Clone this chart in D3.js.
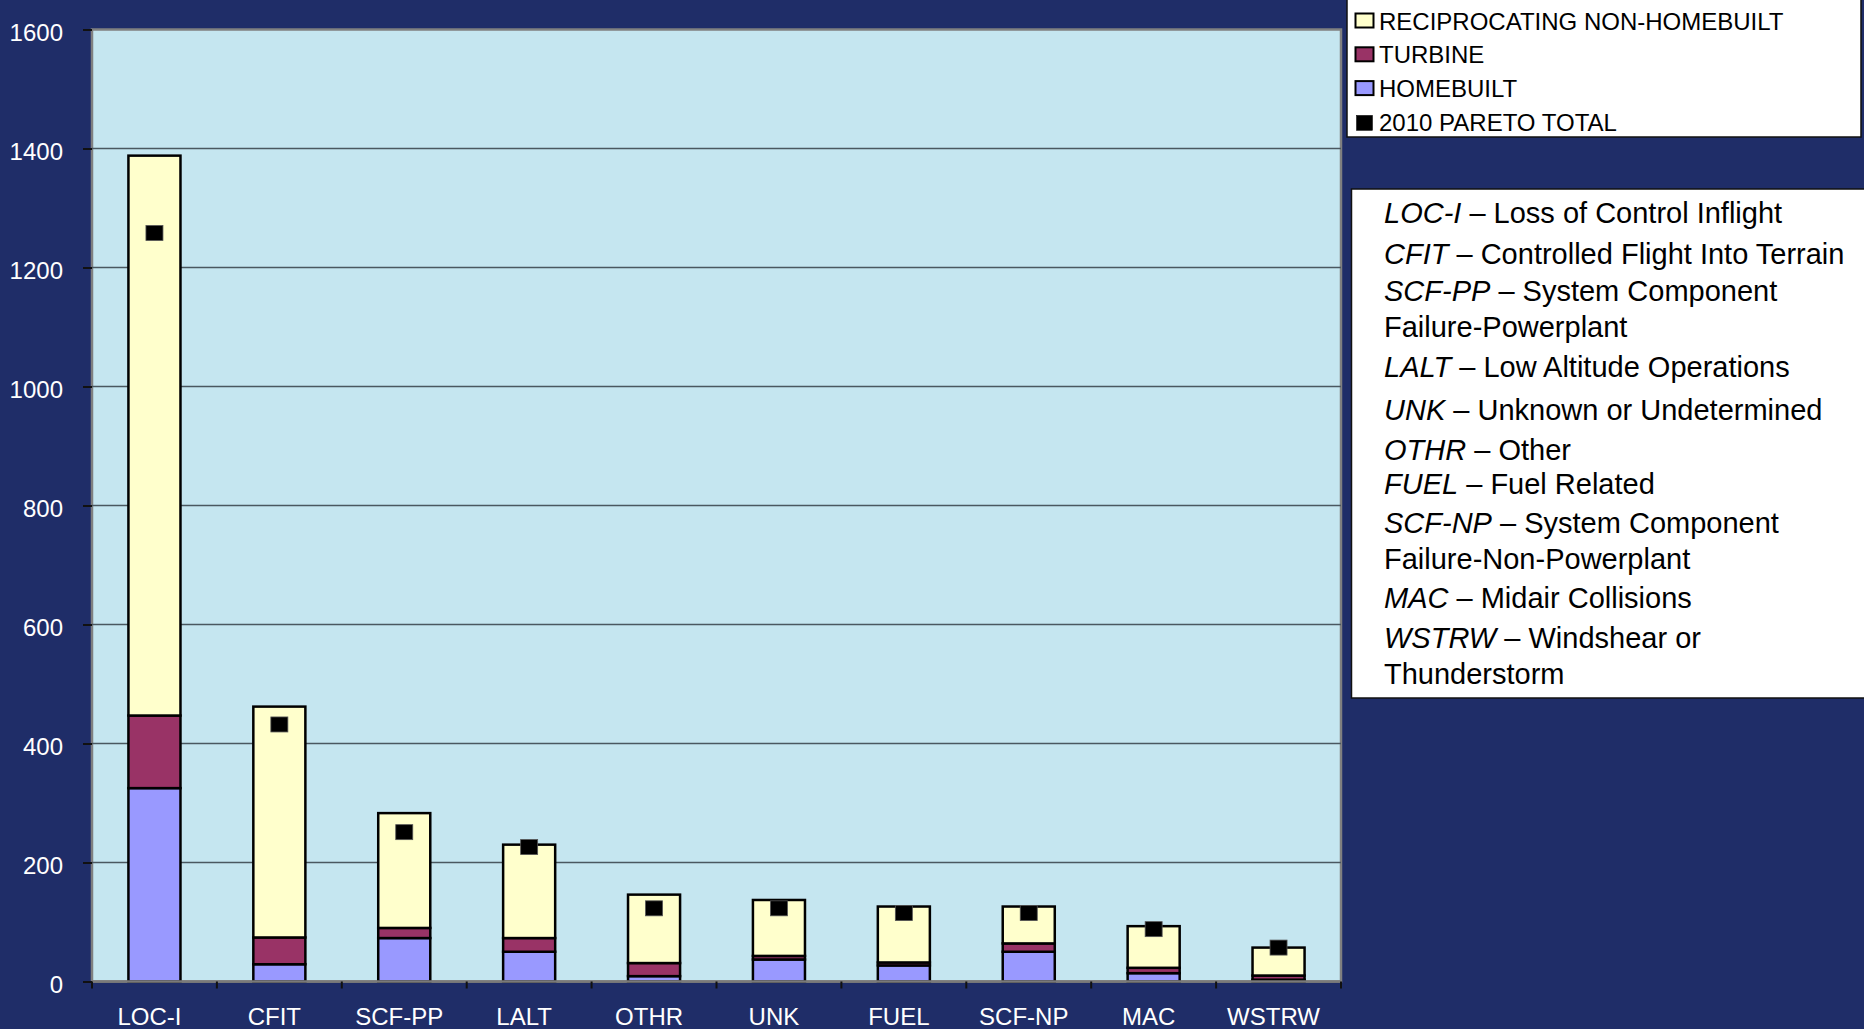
<!DOCTYPE html>
<html>
<head>
<meta charset="utf-8">
<script src="https://cdn.jsdelivr.net/npm/d3@7"></script>
<style>
  body { margin: 0; background: #1f2d68; overflow: hidden; }
  svg { display: block; font-family: "Liberation Sans", Arial, sans-serif; }
</style>
</head>
<body>
<div class="chart"></div>
<script>
const categories = ["LOC-I", "CFIT", "SCF-PP", "LALT", "OTHR", "UNK", "FUEL", "SCF-NP", "MAC", "WSTRW"];
const homebuilt = [325, 29, 73, 50, 9, 37, 27, 50, 14, 3];
const turbine = [122, 45, 17, 23, 22, 6, 5, 14, 9, 7];
const reciprocating = [941, 388, 193, 157, 115, 94, 94, 62, 70, 47];
const pareto2010 = [1258, 432, 251, 226, 123, 123, 115, 115, 88, 57];
const yTicks = [0, 200, 400, 600, 800, 1000, 1200, 1400, 1600];

const seriesNames = ["HOMEBUILT", "TURBINE", "RECIPROCATING NON-HOMEBUILT"];
const seriesColors = ["#9999ff", "#993366", "#ffffcc"];
const legendOrder = ["RECIPROCATING NON-HOMEBUILT", "TURBINE", "HOMEBUILT", "2010 PARETO TOTAL"];

const glossary = [
  ["LOC-I", ["Loss of Control Inflight"]],
  ["CFIT", ["Controlled Flight Into Terrain"]],
  ["SCF-PP", ["System Component", "Failure-Powerplant"]],
  ["LALT", ["Low Altitude Operations"]],
  ["UNK", ["Unknown or Undetermined"]],
  ["OTHR", ["Other"]],
  ["FUEL", ["Fuel Related"]],
  ["SCF-NP", ["System Component", "Failure-Non-Powerplant"]],
  ["MAC", ["Midair Collisions"]],
  ["WSTRW", ["Windshear or", "Thunderstorm"]]
];

const W = 1864, H = 1029;
const plot = { left: 92, right: 1341, top: 29.5, bottom: 981.5 };

const svg = d3.select(".chart").append("svg")
  .attr("width", W)
  .attr("height", H);

svg.append("rect").attr("width", W).attr("height", H).attr("fill", "#1f2d68");

const x = d3.scaleBand().domain(categories).range([plot.left, plot.right]);
const y = d3.scaleLinear().domain([0, 1600]).range([plot.bottom, plot.top]);
const barW = x.bandwidth() / 2.4;

// plot area
svg.append("rect")
  .attr("x", plot.left).attr("y", plot.top)
  .attr("width", plot.right - plot.left).attr("height", plot.bottom - plot.top)
  .attr("fill", "#c5e6f0")
  .attr("stroke", "#808080")
  .attr("stroke-width", 2.5);

// gridlines
svg.append("g")
  .selectAll("line")
  .data(yTicks.filter(d => d > 0 && d < 1600))
  .join("line")
    .attr("x1", plot.left).attr("x2", plot.right)
    .attr("y1", d => y(d)).attr("y2", d => y(d))
    .attr("stroke", "#4a5860")
    .attr("stroke-width", 1.6);

// y axis
const yAxis = svg.append("g")
  .attr("transform", `translate(${plot.left},0)`)
  .call(d3.axisLeft(y).tickValues(yTicks).tickSize(9).tickPadding(0).tickFormat(d3.format("d")));
yAxis.select(".domain").remove();
yAxis.selectAll(".tick line").attr("stroke", "#111").attr("stroke-width", 2);
yAxis.selectAll(".tick text")
  .attr("x", -29)
  .attr("dy", null)
  .attr("y", 11)
  .attr("fill", "#fff")
  .attr("font-size", 24)
  .attr("font-family", "\"Liberation Sans\", Arial, sans-serif");

// stacked bars
const rows = categories.map((c, i) => ({
  cat: c, HOMEBUILT: homebuilt[i], TURBINE: turbine[i], "RECIPROCATING NON-HOMEBUILT": reciprocating[i]
}));
const stacked = d3.stack().keys(seriesNames)(rows);

svg.append("g")
  .selectAll("g")
  .data(stacked)
  .join("g")
    .attr("fill", (d, i) => seriesColors[i])
  .selectAll("rect")
  .data(d => d)
  .join("rect")
    .attr("x", d => x(d.data.cat) + (x.bandwidth() - barW) / 2)
    .attr("width", barW)
    .attr("y", d => y(d[1]))
    .attr("height", d => y(d[0]) - y(d[1]))
    .attr("stroke", "#000")
    .attr("stroke-width", 2.5);

// x axis
svg.append("line")
  .attr("x1", plot.left).attr("x2", plot.right)
  .attr("y1", plot.bottom).attr("y2", plot.bottom)
  .attr("stroke", "#7a7a7a").attr("stroke-width", 2.5);

const bounds = categories.map(c => x(c)).concat([plot.right]);
svg.append("g")
  .selectAll("line")
  .data(bounds)
  .join("line")
    .attr("x1", d => d).attr("x2", d => d)
    .attr("y1", plot.bottom).attr("y2", plot.bottom + 7)
    .attr("stroke", "#111").attr("stroke-width", 2);

svg.append("g")
  .selectAll("text")
  .data(categories)
  .join("text")
    .attr("x", d => x(d) + x.bandwidth() / 2 - 5)
    .attr("y", 1025)
    .attr("text-anchor", "middle")
    .attr("fill", "#fff")
    .attr("font-size", 24)
    .text(d => d);

// 2010 pareto markers
svg.append("g")
  .selectAll("rect")
  .data(pareto2010)
  .join("rect")
    .attr("x", (d, i) => x(categories[i]) + x.bandwidth() / 2 - 8.5)
    .attr("y", d => y(d) - 7.5)
    .attr("width", 17)
    .attr("height", 15)
    .attr("fill", "#000")
    .attr("stroke", "#555")
    .attr("stroke-width", 0.8);

// series legend
const lg = svg.append("g");
lg.append("rect")
  .attr("x", 1347).attr("y", -2)
  .attr("width", 514).attr("height", 139)
  .attr("fill", "#fff").attr("stroke", "#111").attr("stroke-width", 1.5);

const colorOf = n => n === "2010 PARETO TOTAL" ? "#000" : seriesColors[seriesNames.indexOf(n)];
const item = lg.selectAll("g")
  .data(legendOrder)
  .join("g")
    .attr("transform", (d, i) => `translate(1355,${29.5 + i * 33.8})`);
item.append("rect")
  .attr("x", d => d === "2010 PARETO TOTAL" ? 1.5 : 0.5)
  .attr("y", d => d === "2010 PARETO TOTAL" ? -15.5 : -16)
  .attr("width", d => d === "2010 PARETO TOTAL" ? 16 : 18)
  .attr("height", d => d === "2010 PARETO TOTAL" ? 15 : 14)
  .attr("fill", colorOf)
  .attr("stroke", "#000")
  .attr("stroke-width", d => d === "2010 PARETO TOTAL" ? 0.5 : 2);
item.append("text")
  .attr("x", 24)
  .attr("y", 0)
  .attr("font-size", 24)
  .attr("fill", "#000")
  .text(d => d);

// glossary box
const gb = svg.append("g");
gb.append("rect")
  .attr("x", 1351.5).attr("y", 189)
  .attr("width", 530).attr("height", 509)
  .attr("fill", "#fff").attr("stroke", "#111").attr("stroke-width", 1.5);

// spacing before each entry, as in the original slide
const gaps = [0, 41, 37, 40, 43.5, 40, 34, 39, 39, 40.5];
let yy = 223.3;
glossary.forEach(([abbr, lines], k) => {
  yy += gaps[k];
  lines.forEach((ln, j) => {
    if (j > 0) yy += 35.5;
    const t = gb.append("text")
      .attr("x", 1384).attr("y", yy)
      .attr("font-size", 29).attr("fill", "#000");
    if (j === 0) {
      t.append("tspan").attr("font-style", "italic").text(abbr);
      t.append("tspan").text(" \u2013 " + ln);
    } else {
      t.text(ln);
    }
  });
});
</script>
</body>
</html>
